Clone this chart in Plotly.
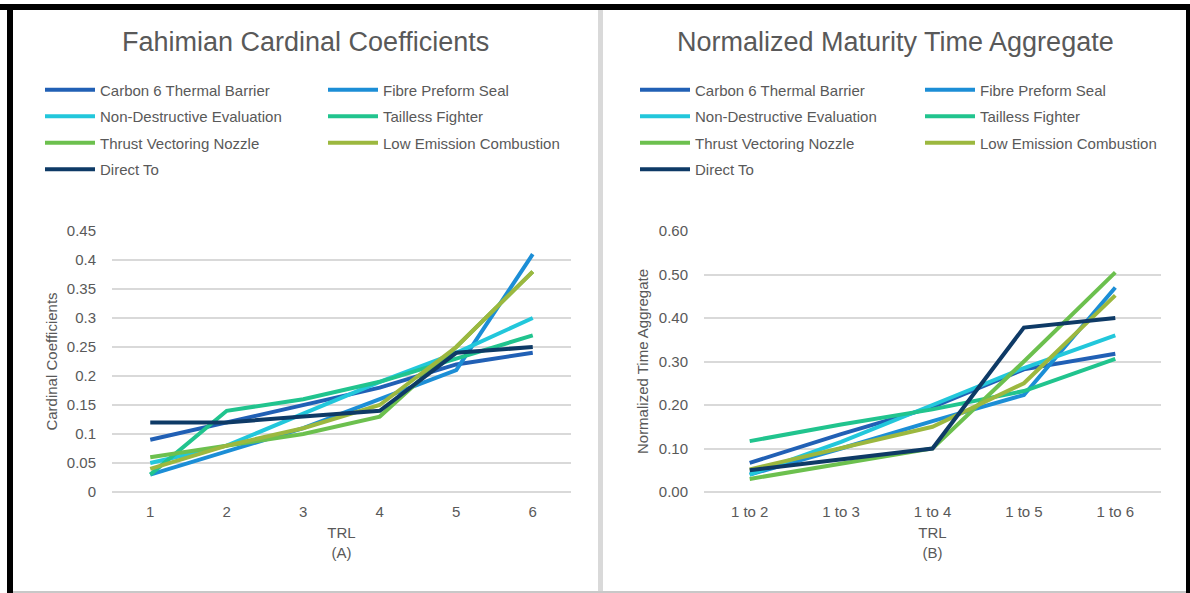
import plotly.graph_objects as go

W, H = 1190, 593

# ---------------- data ----------------
series_names = ["Carbon 6 Thermal Barrier", "Fibre Preform Seal", "Non-Destructive Evaluation",
                "Tailless Fighter", "Thrust Vectoring Nozzle", "Low Emission Combustion", "Direct To"]
colors = ["#2160B5", "#1C8ED6", "#22C7DB", "#21C48E", "#6CC04E", "#9CB83F", "#0E3A66"]

trl_a = ["1", "2", "3", "4", "5", "6"]
carbon_a = [0.09, 0.12, 0.15, 0.18, 0.22, 0.24]
fibre_a = [0.03, 0.07, 0.11, 0.16, 0.21, 0.41]
nde_a = [0.05, 0.08, 0.135, 0.19, 0.24, 0.30]
tailless_a = [0.03, 0.14, 0.16, 0.19, 0.23, 0.27]
thrust_a = [0.06, 0.08, 0.10, 0.13, 0.25, 0.38]
lowem_a = [0.04, 0.08, 0.11, 0.15, 0.25, 0.38]
direct_a = [0.12, 0.12, 0.13, 0.14, 0.24, 0.25]

trl_b = ["1 to 2", "1 to 3", "1 to 4", "1 to 5", "1 to 6"]
carbon_b = [0.067, 0.133, 0.195, 0.282, 0.318]
fibre_b = [0.04, 0.10, 0.163, 0.223, 0.47]
nde_b = [0.04, 0.115, 0.20, 0.285, 0.36]
tailless_b = [0.117, 0.155, 0.19, 0.232, 0.306]
thrust_b = [0.03, 0.065, 0.10, 0.30, 0.505]
lowem_b = [0.052, 0.10, 0.15, 0.25, 0.452]
direct_b = [0.05, 0.075, 0.10, 0.378, 0.40]

values_a = [carbon_a, fibre_a, nde_a, tailless_a, thrust_a, lowem_a, direct_a]
values_b = [carbon_b, fibre_b, nde_b, tailless_b, thrust_b, lowem_b, direct_b]

# ---------------- helpers ----------------
def px(x):
    return x / W

def py(y):
    return 1 - y / H

FONT = "Liberation Sans, Arial, sans-serif"
GREY = "#595959"
GRID = "#D9D9D9"
FS = 15

fig = go.Figure()

for i, name in enumerate(series_names):
    leg = "legend" if i % 2 == 0 else "legend2"
    fig.add_trace(go.Scatter(x=trl_a, y=values_a[i], name=name, mode="lines",
                             line=dict(color=colors[i], width=4),
                             xaxis="x", yaxis="y", legend=leg, legendgroup="a%d" % i))
for i, name in enumerate(series_names):
    leg = "legend3" if i % 2 == 0 else "legend4"
    fig.add_trace(go.Scatter(x=trl_b, y=values_b[i], name=name, mode="lines",
                             line=dict(color=colors[i], width=4),
                             xaxis="x2", yaxis="y2", legend=leg, legendgroup="b%d" % i))

ydom = [py(492), py(231)]
common_x = dict(type="category", showgrid=False, zeroline=False, showline=False, ticks="",
                ticklabelstandoff=9, automargin=False,
                tickfont=dict(family=FONT, size=FS, color=GREY),
                title=dict(font=dict(family=FONT, size=FS, color=GREY), standoff=8))
common_y = dict(showgrid=True, gridcolor=GRID, gridwidth=1.5, zeroline=True, zerolinecolor=GRID,
                zerolinewidth=1.5, showline=False, ticks="", ticklabelstandoff=15, automargin=False,
                tickfont=dict(family=FONT, size=FS, color=GREY),
                title=dict(font=dict(family=FONT, size=FS, color=GREY), standoff=5))

legend_common = dict(orientation="v", bgcolor="rgba(0,0,0,0)", font=dict(family=FONT, size=FS, color=GREY),
                     tracegroupgap=4, itemwidth=50, yanchor="top", xanchor="left",
                     itemclick=False, itemdoubleclick=False)

fig.update_layout(
    width=W, height=H, margin=dict(l=0, r=0, t=0, b=0, autoexpand=False),
    paper_bgcolor="white", plot_bgcolor="white",
    xaxis=dict(common_x, domain=[px(112), px(571)], range=[-0.5, 5.5], anchor="y",
               title_text="TRL<br>(A)"),
    yaxis=dict(common_y, domain=ydom, range=[0, 0.45], dtick=0.05, anchor="x",
               title_text="Cardinal Coefficients"),
    xaxis2=dict(common_x, domain=[px(704), px(1161)], range=[-0.5, 4.5], anchor="y2",
                title_text="TRL<br>(B)"),
    yaxis2=dict(common_y, domain=ydom, range=[0, 0.6], dtick=0.1, tickformat=".2f", anchor="x2",
                title_text="Normalized Time Aggregate", title_standoff=6),
    legend=dict(legend_common, x=px(40), y=py(73.5)),
    legend2=dict(legend_common, x=px(323), y=py(73.5)),
    legend3=dict(legend_common, x=px(635), y=py(73.5)),
    legend4=dict(legend_common, x=px(920), y=py(73.5)),
    showlegend=True,
    annotations=[
        dict(text="Fahimian Cardinal Coefficients", x=px(305), y=py(42), xref="paper", yref="paper",
             xanchor="center", yanchor="middle",
             showarrow=False, font=dict(family=FONT, size=27, color=GREY)),
        dict(text="Normalized Maturity Time Aggregate", x=px(895), y=py(42), xref="paper", yref="paper",
             xanchor="center", yanchor="middle",
             showarrow=False, font=dict(family=FONT, size=27, color=GREY)),
    ],
    shapes=[
        dict(type="rect", xref="paper", yref="paper", x0=0, x1=1, y0=py(10), y1=py(4),
             fillcolor="black", line_width=0, layer="above"),
        dict(type="rect", xref="paper", yref="paper", x0=px(7), x1=px(13), y0=0, y1=py(4),
             fillcolor="black", line_width=0, layer="above"),
        dict(type="rect", xref="paper", yref="paper", x0=px(1186), x1=1, y0=0, y1=py(4),
             fillcolor="black", line_width=0, layer="above"),
        dict(type="rect", xref="paper", yref="paper", x0=px(598), x1=px(603), y0=0, y1=py(10),
             fillcolor="#D9D9D9", line_width=0, layer="above"),
        dict(type="rect", xref="paper", yref="paper", x0=px(13), x1=px(1186), y0=0, y1=py(591),
             fillcolor="#C8C8C8", line_width=0, layer="above"),
    ],
)

fig.write_html("out.html", config={"displayModeBar": False},
               post_script="document.body.style.margin='0';")
